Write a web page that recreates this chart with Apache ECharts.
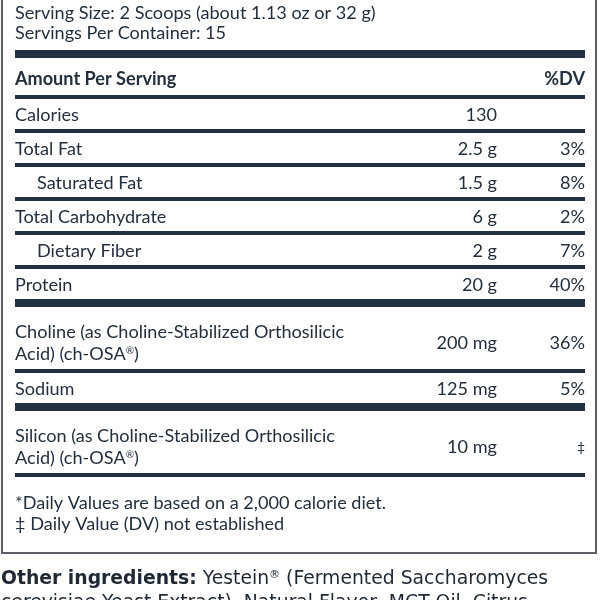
<!DOCTYPE html>
<html><head><meta charset="utf-8">
<script src="https://cdn.jsdelivr.net/npm/echarts@6/dist/echarts.min.js"></script>
<style>html,body{margin:0;padding:0;background:#fff}#c{width:600px;height:600px}</style>
</head><body><div id="c"></div>
<script>
// ---- content ----
const servingInfo = ["Serving Size: 2 Scoops (about 1.13 oz or 32 g)", "Servings Per Container: 15"];
const columnHeads = ["Amount Per Serving", "%DV"];
const nutrients = ["Calories", "Total Fat", "Saturated Fat", "Total Carbohydrate", "Dietary Fiber", "Protein",
  "Choline (as Choline-Stabilized Orthosilicic\nAcid) (ch-OSA®)", "Sodium",
  "Silicon (as Choline-Stabilized Orthosilicic\nAcid) (ch-OSA®)"];
const amounts = ["130", "2.5 g", "1.5 g", "6 g", "2 g", "20 g", "200 mg", "125 mg", "10 mg"];
const dailyValues = ["", "3%", "8%", "2%", "7%", "40%", "36%", "5%", "‡"];
const subNutrients = ["Saturated Fat", "Dietary Fiber"];
const groupEnds = ["Protein", "Sodium"];
const footnotes = ["*Daily Values are based on a 2,000 calorie diet.", "‡ Daily Value (DV) not established"];
const otherLabel = "Other ingredients:";
const otherText = ["Yestein® (Fermented Saccharomyces", "cerevisiae Yeast Extract), Natural Flavor, MCT Oil, Citrus"];

// ---- styles / layout constants (layout units) ----
const TEXT = '#232f3d', RULE = '#223043', BORDER = '#5c6066';
const FONT = 'Lato', FS = 18.1;
const X0 = 15, X1 = 585, XAMT = 497, XIND = 37;
const THIN = 4, THICK = 8, SINGLE = 30, LINE = 22;

// build layout rows from content
const rows = [];
let cursor = 0;
function addRow(kind, h, rule, extra) {
  rows.push(Object.assign({kind, top: cursor, bottom: cursor + h, rule}, extra || {}));
  cursor += h + rule;
}
addRow('serving', 50, THICK, {lines: servingInfo});
addRow('head', 37, THIN, {cols: columnHeads});
nutrients.forEach((n, i) => {
  const nl = n.split('\n').length;
  const h = nl > 1 ? SINGLE + (nl - 1) * 32 : SINGLE;
  addRow('nut', h, groupEnds.includes(n) ? THICK : THIN,
    {name: n, amt: amounts[i], dv: dailyValues[i], sub: subNutrients.includes(n), nl});
});
addRow('foot', 76, 0, {lines: footnotes});
addRow('other', 600 - cursor, 0, {label: otherLabel, lines: otherText});

function sup(s) {
  return s.split('\n').map(l => l.split('®').map(p => p ? '{r|' + p + '}' : '').join('{sup|®}')).join('\n');
}

function txt(pt, text, opt) {
  return {type: 'text', style: Object.assign({
    x: pt[0], y: pt[1], text, fill: TEXT, fontFamily: FONT, fontSize: FS,
    align: 'left', verticalAlign: 'middle'
  }, opt || {})};
}

function renderItem(params, api) {
  const r = rows[params.dataIndex];
  const top = api.value(0), bottom = api.value(1);
  const C = (x, y) => api.coord([x, y]);
  const ch = [];
  const richBase = {
    r: {fontFamily: FONT, fontSize: FS, fill: TEXT, lineHeight: LINE},
    sup: {fontFamily: FONT, fontSize: 10, fill: TEXT, lineHeight: LINE, padding: [0, 0, 7, 0]}
  };
  if (r.kind === 'serving') {
    ch.push(txt(C(X0, bottom - 27), r.lines.join('\n'), {lineHeight: 20}));
  } else if (r.kind === 'head') {
    ch.push(txt(C(X0, bottom - 16), r.cols[0], {fontWeight: 'bold'}));
    ch.push(txt(C(X1, bottom - 16), r.cols[1], {fontWeight: 'bold', align: 'right'}));
  } else if (r.kind === 'nut') {
    const cy = r.nl > 1 ? bottom - 26 : bottom - 13.5;
    ch.push(txt(C(r.sub ? XIND : X0, cy), sup(r.name), {lineHeight: LINE, rich: richBase}));
    ch.push(txt(C(XAMT, cy), r.amt, {align: 'right'}));
    ch.push(txt(C(X1, cy), r.dv, {align: 'right', fontSize: r.dv === '‡' ? 14 : FS}));
  } else if (r.kind === 'foot') {
    ch.push(txt(C(X0, top + 36.5), r.lines.join('\n'), {lineHeight: 21}));
    // box outline
    ch.push({type: 'polyline', shape: {points: [C(2, -5), C(2, bottom), C(596, bottom), C(596, -5)]},
      style: {stroke: BORDER, lineWidth: 2, fill: null}});
  } else if (r.kind === 'other') {
    const OF = 'DejaVu Sans', OS = 18.8, OC = '#1f2833';
    const line1 = '{b|' + r.label + '} ' + sup(r.lines[0]);
    const line2 = sup(r.lines[1]);
    ch.push(txt(C(1, top + 38), line1 + '\n' + line2, {
      fontFamily: OF, fontSize: OS, lineHeight: 24,
      rich: {
        b: {fontFamily: OF, fontSize: OS, fontWeight: 'bold', fill: OC, lineHeight: 24},
        r: {fontFamily: OF, fontSize: OS, fill: OC, lineHeight: 24},
        sup: {fontFamily: OF, fontSize: 11, fill: OC, lineHeight: 24, padding: [0, 0, 8, 0]}
      }
    }));
  }
  if (r.rule > 0) {
    const a = C(X0, bottom), b = C(X1, bottom + r.rule);
    ch.push({type: 'rect', shape: {x: a[0], y: a[1], width: b[0] - a[0], height: b[1] - a[1]},
      style: {fill: RULE}});
  }
  return {type: 'group', children: ch};
}

const chart = echarts.init(document.getElementById('c'), null, {renderer: 'canvas'});
chart.setOption({
  animation: false,
  backgroundColor: '#ffffff',
  grid: {left: 0, right: 0, top: 0, bottom: 0},
  xAxis: {type: 'value', min: 0, max: 600, show: false},
  yAxis: {type: 'value', min: 0, max: 600, inverse: true, show: false},
  series: [{
    type: 'custom',
    renderItem,
    clip: false,
    encode: {x: -1, y: [0, 1]},
    data: rows.map((r, i) => [r.top, r.bottom, i])
  }]
});
</script></body></html>
